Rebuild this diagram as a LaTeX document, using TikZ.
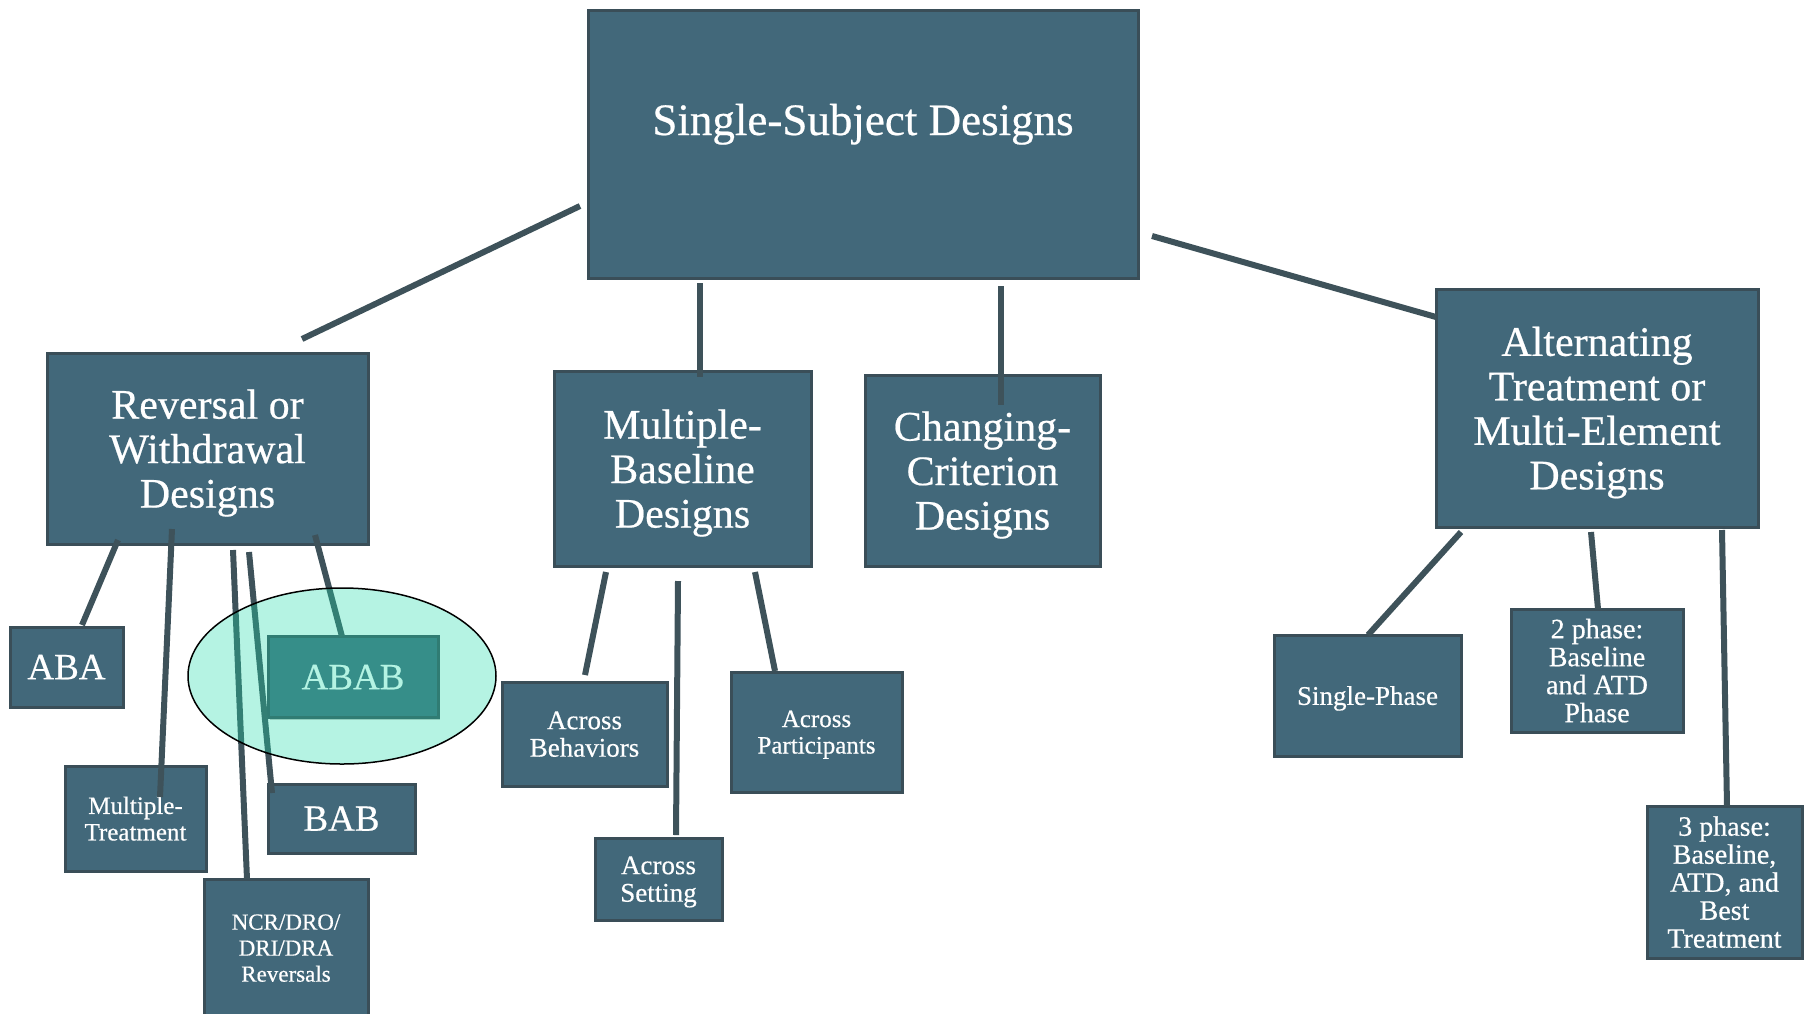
\documentclass[tikz,border=0pt]{standalone}
\usepackage{fontspec}
\setmainfont[FakeBold=0.5]{Liberation Serif}
\usetikzlibrary{calc,shadows}
\definecolor{boxfill}{RGB}{66,104,122}
\definecolor{boxborder}{RGB}{58,78,88}
\definecolor{conncol}{RGB}{62,82,90}
\definecolor{hilite}{RGB}{30,220,170}
\begin{document}
\begin{tikzpicture}[x=1pt,y=-1pt,
  box/.style={rectangle, draw=boxborder, line width=3pt, fill=boxfill, text=white,
    align=center, inner sep=0pt, outer sep=0pt, text depth=0pt,
    drop shadow={shadow xshift=2pt, shadow yshift=-2pt, opacity=0.22, fill=black}},
  conn/.style={draw=conncol, line width=6pt},
  ftop/.style={font=\fontsize{45}{48}\selectfont},
  fmain/.style={font=\fontsize{42}{44.5}\selectfont},
  fbig/.style={font=\fontsize{37}{40}\selectfont},
  fmid/.style={font=\fontsize{27}{27.5}\selectfont},
  fsmall/.style={font=\fontsize{25}{26.5}\selectfont},
  ftiny/.style={font=\fontsize{23}{26}\selectfont},
  fph/.style={font=\fontsize{28}{28}\selectfont}]
\useasboundingbox (0,0) rectangle (1804,1013);

% main boxes
\node[box, minimum width=550pt, minimum height=268pt] (top) at (863,144) {};
\node[ftop, text=white, anchor=base] (toptext) at (863,135) {Single-Subject Designs};
\node[box, fmain, minimum width=321pt, minimum height=191pt] (rev) at (207.5,448.5) {Reversal or\\Withdrawal\\Designs};
\node[box, fmain, minimum width=257pt, minimum height=195pt] (mb) at (682.5,468.5) {Multiple-\\Baseline\\Designs};
\node[box, fmain, minimum width=235pt, minimum height=191pt] (cc) at (982.5,470.5) {Changing-\\Criterion\\Designs};
\node[box, fmain, minimum width=322pt, minimum height=238pt] (alt) at (1597,408) {Alternating\\Treatment or\\Multi-Element\\Designs};

% reversal children
\node[box, fbig, minimum width=113pt, minimum height=80pt] (aba) at (66.5,667) {ABA};
\node[box, fbig, minimum width=170pt, minimum height=81pt] (abab) at (353,677) {ABAB};
\node[box, fsmall, minimum width=141pt, minimum height=105pt] (mt) at (135.5,818.5) {Multiple-\\Treatment};
\node[box, fbig, minimum width=147pt, minimum height=69pt] (bab) at (341.5,818.5) {BAB};
\node[box, ftiny, minimum width=164pt, minimum height=138pt] (ncr) at (286,948) {NCR/DRO/\\DRI/DRA\\Reversals};

% multiple-baseline children
\node[box, fmid, minimum width=165pt, minimum height=104pt] (ab) at (584.5,734) {Across\\Behaviors};
\node[box, fmid, minimum width=127pt, minimum height=82pt] (as) at (658.5,879) {Across\\Setting};
\node[box, fsmall, minimum width=171pt, minimum height=120pt] (ap) at (816.5,732) {Across\\Participants};

% alternating children
\node[box, fmid, minimum width=187pt, minimum height=121pt] (sp) at (1367.5,695.5) {Single-Phase};
\node[box, fph, minimum width=172pt, minimum height=123pt] (p2) at (1597,670.5) {2 phase:\\Baseline\\and ATD\\Phase};
\node[box, fph, minimum width=155pt, minimum height=152pt] (p3) at (1724.5,882) {3 phase:\\Baseline,\\ATD, and\\Best\\Treatment};

% connectors
\draw[conn] ($(top.north west)+(-8,196)$) -- ($(rev.north west)+(255,-14)$);
\draw[conn] ($(top.north west)+(112,273)$) -- ($(mb.north west)+(146,6)$);
\draw[conn] ($(top.north west)+(413,276)$) -- ($(cc.north west)+(136,30)$);
\draw[conn] ($(top.north west)+(564,226)$) -- ($(alt.north west)+(0,28)$);

\draw[conn] ($(rev.north west)+(71,187)$) -- ($(aba.north west)+(72,-2)$);
\draw[conn] ($(rev.north west)+(125,176)$) -- ($(mt.north west)+(95,31)$);
\draw[conn] ($(rev.north west)+(186,197)$) -- ($(ncr.north west)+(43,0)$);
\draw[conn] ($(rev.north west)+(202,199)$) -- ($(bab.north west)+(4,9)$);
\draw[conn] ($(rev.north west)+(268,182)$) -- ($(abab.north west)+(74,0)$);

\draw[conn] ($(mb.north west)+(52,201)$) -- ($(ab.north west)+(83,-7)$);
\draw[conn] ($(mb.north west)+(124,210)$) -- ($(as.north west)+(81,-3)$);
\draw[conn] ($(mb.north west)+(201,201)$) -- ($(ap.north west)+(44,-1)$);

\draw[conn] ($(alt.north west)+(25,243)$) -- ($(sp.north west)+(94,0)$);
\draw[conn] ($(alt.north west)+(155,243)$) -- ($(p2.north west)+(87,0)$);
\draw[conn] ($(alt.north west)+(286,241)$) -- ($(p3.north west)+(80,0)$);

% highlight ellipse
\path[fill=hilite, fill opacity=0.33, draw=black, draw opacity=1, line width=1.5pt]
  (abab.center) ++(-11,-1) coordinate (hl) ellipse [x radius=154, y radius=88];
\end{tikzpicture}
\end{document}
